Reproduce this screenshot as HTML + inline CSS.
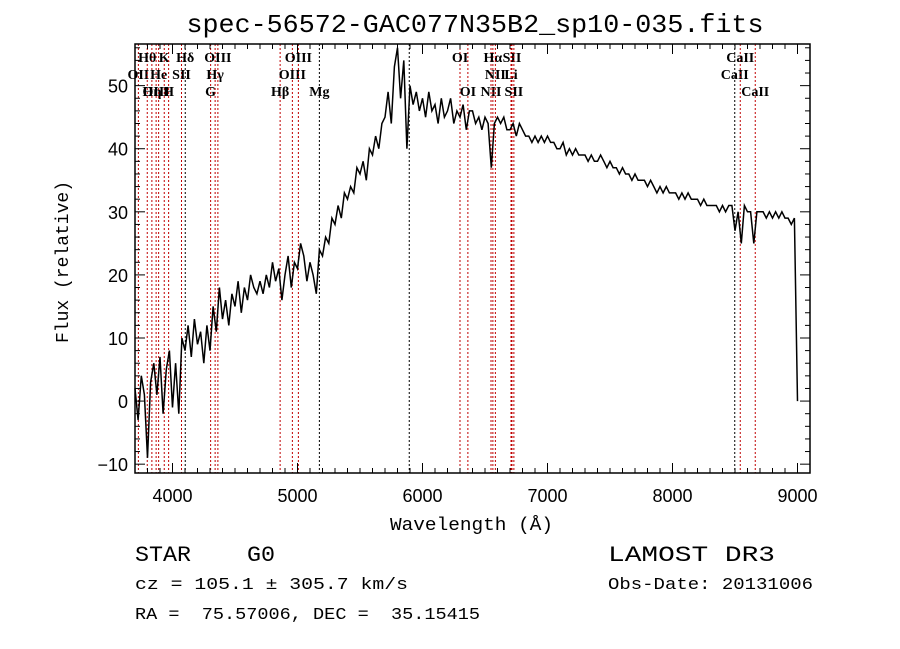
<!DOCTYPE html>
<html><head><meta charset="utf-8"><style>
html,body{margin:0;padding:0;background:#fff;}
svg{display:block;}
text{white-space:pre;}
</style></head><body>
<svg id="chart" width="900" height="649" xmlns="http://www.w3.org/2000/svg" xml:space="preserve">
<rect width="900" height="649" fill="#fff"/>
<text x="475" y="32" text-anchor="middle" font-family="Liberation Mono, monospace" font-size="26" textLength="577" lengthAdjust="spacingAndGlyphs">spec-56572-GAC077N35B2_sp10-035.fits</text>
<g id="lines"></g>
<g id="spec"></g>
<g id="axes"></g>
<text x="390" y="530" font-family="Liberation Mono, monospace" font-size="18" textLength="163" lengthAdjust="spacingAndGlyphs">Wavelength (Å)</text>
<text transform="translate(68,262) rotate(-90)" text-anchor="middle" font-family="Liberation Mono, monospace" font-size="18">Flux (relative)</text>
<text x="135" y="561" font-family="Liberation Mono, monospace" font-size="22" textLength="140" lengthAdjust="spacingAndGlyphs">STAR    G0</text>
<text x="608" y="561" font-family="Liberation Mono, monospace" font-size="22" textLength="167" lengthAdjust="spacingAndGlyphs">LAMOST DR3</text>
<text x="135" y="589" font-family="Liberation Mono, monospace" font-size="17" textLength="273" lengthAdjust="spacingAndGlyphs">cz = 105.1 ± 305.7 km/s</text>
<text x="608" y="589" font-family="Liberation Mono, monospace" font-size="17" textLength="205" lengthAdjust="spacingAndGlyphs">Obs-Date: 20131006</text>
<text x="135" y="619" font-family="Liberation Mono, monospace" font-size="17" textLength="345" lengthAdjust="spacingAndGlyphs">RA =  75.57006, DEC =  35.15415</text>
</svg>
<script>
const wlStart = 3700;
const wlStep = 25;
const flux = [
2,-3,4,1, -9,3,6,1, 7,-2,5,8, -1,6,-2,10,
8,12,7,13, 9,11,6,12, 8,15,11,18, 13,16,12,17,
15,19,14,18, 16,20,18,17, 19,17,20,18, 22,19,21,16,
20,23,18,22, 21,25,23,19, 22,20,17,24, 23,26,25,29,
28,31,29,33, 32,34,33,37, 36,38,35,40, 39,42,40,44,
45,49,44,53, 56,48,54,40, 50,47,49,46, 48,45,49,46,
47,44,48,45, 46,48,44,46, 45,47,43,46, 46,44,45,43,
45,44,37,44, 45,44,45,43, 43,44,42,44, 43,42,42,41,
42,41,42,41, 42,41,41,40, 40,41,39,40, 39,40,39,39,
39,38,39,38, 38,39,38,37, 38,37,37,36, 37,36,36,35,
36,35,35,35, 34,35,34,33, 34,33,34,33, 33,33,32,33,
32,33,32,32, 32,31,32,31, 31,31,31,30, 31,30,31,31,
27,30,25,31, 30,30,25,30, 30,30,29,30, 29,30,29,30,
29,29,28,29, 0
];
const lineWl = [3727,3798,3835,3869,3889,3934,3969,4072,4102,4305,4341,4363,4861,4959,5007,5175,5894,6300,6363,6548,6563,6583,6708,6716,6731,8498,8542,8662];
const lineLabel = ["OII","Hθ","Hη","OIII","He","K","H","SII","Hδ","G","Hγ","OIII","Hβ","OIII","OIII","Mg","","OI","OI","NII","Hα","NII","Li","SII","SII","CaII","CaII","CaII"];
const lineRow = [1,0,2,2,1,0,2,1,0,2,1,0,2,1,0,2,0,0,2,2,0,1,1,0,2,1,0,2];
const lineBlack = [0,0,0,0,0,0,0,0,1,0,0,0,0,0,0,1,1,0,0,0,0,0,0,0,0,1,0,0];
const xTicks = [4000,5000,6000,7000,8000,9000];
const yTicks = [-10,0,10,20,30,40,50];

const L=135,R=810,T=44,B=473;
const xMin=3700,xMax=9100,yMin=-11.4,yMax=56.6;
const X=w=>L+(w-xMin)/(xMax-xMin)*(R-L);
const Y=f=>B-(f-yMin)/(yMax-yMin)*(B-T);
const NS="http://www.w3.org/2000/svg";
function mk(tag,attrs,parent){const e=document.createElementNS(NS,tag);for(const k in attrs)e.setAttribute(k,attrs[k]);parent.appendChild(e);return e;}

const lg=document.getElementById('lines');
lineWl.forEach((w,i)=>{
  const l=mk('line',{x1:X(w),x2:X(w),y1:T,y2:B,stroke:lineBlack[i]?'#000':'#c00000','stroke-width':1,'stroke-dasharray':'2,2'},lg);
  
  
  if(lineLabel[i]){
    const t=mk('text',{x:X(w),y:62+lineRow[i]*17,'text-anchor':'middle','font-family':'Liberation Serif, serif','font-size':14,'font-weight':'bold'},lg);
    t.textContent=lineLabel[i];
    
    
  }
});

const sg=document.getElementById('spec');
let d='';
flux.forEach((f,i)=>{const w=wlStart+i*wlStep;d+=(i?'L':'M')+X(w).toFixed(1)+','+Y(f).toFixed(1);});
const p=mk('path',{d:d,fill:'none',stroke:'#000','stroke-width':1.5},sg);



const ag=document.getElementById('axes');
const fr=mk('rect',{x:L,y:T,width:R-L,height:B-T,fill:'none',stroke:'#000','stroke-width':1.5},ag);


for(let w=3700;w<=9100;w+=100){
  const maj=w%1000===0, len=maj?10:5;
  mk('line',{x1:X(w),x2:X(w),y1:B,y2:B-len,stroke:'#000'},ag);
  mk('line',{x1:X(w),x2:X(w),y1:T,y2:T+len,stroke:'#000'},ag);
}
xTicks.forEach(w=>{
  const t=mk('text',{x:X(w),y:502,'text-anchor':'middle','font-family':'Liberation Sans, sans-serif','font-size':18},ag);
  t.textContent=w;
  
  
});
for(let f=-10;f<=56;f+=2){
  const maj=f%10===0, len=maj?10:5;
  mk('line',{x1:L,x2:L+len,y1:Y(f),y2:Y(f),stroke:'#000'},ag);
  mk('line',{x1:R,x2:R-len,y1:Y(f),y2:Y(f),stroke:'#000'},ag);
}
yTicks.forEach(f=>{
  const t=mk('text',{x:128,y:Y(f)+7,'text-anchor':'end','font-family':'Liberation Sans, sans-serif','font-size':18},ag);
  t.textContent=f<0?'−'+(-f):f;
  
  
});
</script>
</body></html>
